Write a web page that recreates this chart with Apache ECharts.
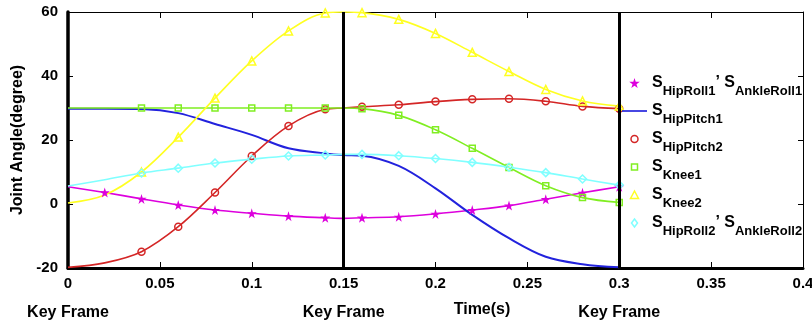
<!DOCTYPE html>
<html>
<head>
<meta charset="utf-8">
<script src="https://cdn.jsdelivr.net/npm/echarts@6/dist/echarts.min.js"></script>
<style>
  html, body { margin: 0; padding: 0; background: #fff; }
  #main { width: 812px; height: 327px; }
</style>
</head>
<body>
<div id="main"></div>
<script>
// sample times (s), markers every 0.02, key frame at 0.15
const times = [0, 0.02, 0.04, 0.06, 0.08, 0.10, 0.12, 0.14, 0.15, 0.16, 0.18, 0.20, 0.22, 0.24, 0.26, 0.28, 0.30];
const keyFrames = [0, 0.15, 0.3];

// joint angles (degree)
const hipRoll1 = [5.4, 3.6, 1.6, -0.3, -1.9, -2.9, -3.8, -4.3, -4.5, -4.3, -4.0, -3.1, -1.9, -0.5, 1.5, 3.5, 5.4];
const hipPitch1 = [29.8, 29.8, 29.7, 28.4, 25.0, 21.6, 17.4, 15.8, 15.3, 15.1, 11.9, 4.9, -3.4, -10.7, -16.5, -18.8, -19.8];
const hipPitch2 = [-19.8, -18.4, -14.9, -7.1, 3.6, 15.0, 24.4, 29.6, 30.0, 30.4, 31.0, 32.0, 32.7, 32.9, 32.1, 30.5, 29.8];
const knee1 = [30, 30, 30, 30, 30, 30, 30, 30, 30, 29.8, 27.7, 23.2, 17.4, 11.4, 5.7, 2.0, 0.5];
const knee2 = [0.3, 2.8, 10.0, 20.9, 33.1, 44.7, 54.1, 59.7, 60, 59.8, 57.7, 53.3, 47.4, 41.4, 35.8, 32.2, 30.6];
const hipRoll2 = [5.6, 7.6, 9.7, 11.2, 12.8, 14.0, 15.0, 15.3, 15.5, 15.5, 15.1, 14.2, 13.0, 11.5, 9.8, 7.8, 5.9];

const legendLabels = {
  hipRoll1: '{s|S}{b|HipRoll1}{s|’ S}{b|AnkleRoll1}',
  hipPitch1: '{s|S}{b|HipPitch1}',
  hipPitch2: '{s|S}{b|HipPitch2}',
  knee1: '{s|S}{b|Knee1}',
  knee2: '{s|S}{b|Knee2}',
  hipRoll2: '{s|S}{b|HipRoll2}{s|’ S}{b|AnkleRoll2}'
};

const starPath = 'path://M50,0 L61,35 L98,35 L68,57 L79,91 L50,70 L21,91 L32,57 L2,35 L39,35 Z';
// legend icons, padded inside a 10x10 box so they stay small
const legendIcons = {
  circle: 'path://M0,0M10,10M1.5,5A3.5,3.5 0 1 1 8.5,5A3.5,3.5 0 1 1 1.5,5Z',
  rect: 'path://M0,0M10,10M2,2H8V8H2Z',
  triangle: 'path://M0,0M10,10M5,1L9,8.5H1Z',
  diamond: 'path://M0,0M10,10M5,1L8,5L5,9L2,5Z',
  none: 'path://M0,0H30V2H0Z'
};
const FONT = 'Liberation Sans';

// name, values, colour, symbol, size, hollow, first time with a marker
const defs = [
  ['hipRoll1', hipRoll1, '#dd00dd', starPath, 10, false, 0.02],
  ['hipPitch1', hipPitch1, '#2222dd', 'none', 0, false, 1],
  ['hipPitch2', hipPitch2, '#d42626', 'circle', 7, true, 0.04],
  ['knee1', knee1, '#80ee22', 'rect', 6, true, 0.04],
  ['knee2', knee2, '#ffff22', 'triangle', 8, true, 0.04],
  ['hipRoll2', hipRoll2, '#80ffff', 'diamond', 8, true, 0.04]
];

function buildData(vals, first) {
  return times.map(function (t, i) {
    if (t < first - 1e-9 || t === 0.15) return { value: [t, vals[i]], symbol: 'none' };
    return [t, vals[i]];
  });
}

const series = defs.map(function (d) {
  return {
    name: d[0],
    type: 'line',
    data: buildData(d[1], d[6]),
    smooth: 0.35,
    symbol: d[3],
    symbolSize: d[4],
    showSymbol: d[3] !== 'none',
    lineStyle: { color: d[2], width: d[0] === 'hipPitch1' ? 2 : 1.6 },
    itemStyle: d[5]
      ? { color: 'none', borderColor: d[2], borderWidth: 1.5 }
      : { color: d[2] },
    z: 3
  };
});

// key frame vertical lines
series.push({
  name: 'keyframes',
  type: 'line',
  data: [],
  z: 6,
  markLine: {
    silent: true,
    symbol: ['none', 'none'],
    label: { show: false },
    lineStyle: { color: '#000', width: 3, type: 'solid' },
    data: keyFrames.slice(1).map(function (t) { return { xAxis: t }; })
  }
});

const legendData = defs.map(function (d) {
  const icon = legendIcons[d[3]] || d[3];
  const itemStyle = d[5]
    ? { color: 'none', borderColor: d[2], borderWidth: 1.5 }
    : { color: d[2], borderWidth: 0 };
  return { name: d[0], icon: icon, itemStyle: itemStyle };
});

const chart = echarts.init(document.getElementById('main'));
chart.setOption({
  animation: false,
  textStyle: { fontFamily: FONT },
  grid: { left: 68, right: 9, top: 12, bottom: 59, containLabel: false, outerBoundsMode: 'none' },
  legend: {
    orient: 'vertical',
    left: 617,
    top: 70,
    padding: 5,
    itemWidth: 25,
    itemHeight: 10,
    itemGap: 5,
    selectedMode: false,
    data: legendData,
    formatter: function (n) { return legendLabels[n]; },
    textStyle: {
      rich: {
        s: { fontSize: 16, fontWeight: 'bold', fontFamily: FONT, color: '#000', lineHeight: 16, verticalAlign: 'top' },
        b: { fontSize: 13, fontWeight: 'bold', fontFamily: FONT, color: '#000', lineHeight: 15, padding: [10, 0, 0, 0], verticalAlign: 'top' }
      }
    }
  },
  xAxis: [
    {
      type: 'value', min: 0, max: 0.4, interval: 0.05,
      axisLine: { show: true, onZero: false, lineStyle: { color: '#000', width: 3 } },
      axisTick: { show: true, inside: true, length: 6, lineStyle: { color: '#000', width: 1 } },
      axisLabel: { color: '#000', fontSize: 15, fontWeight: 'bold', fontFamily: FONT, margin: 8 },
      splitLine: { show: false }
    },
    {
      type: 'value', position: 'top', min: 0, max: 0.4, interval: 0.05,
      axisLine: { show: true, onZero: false, lineStyle: { color: '#000', width: 1 } },
      axisTick: { show: true, inside: true, length: 6, lineStyle: { color: '#000', width: 1 } },
      axisLabel: { show: false },
      splitLine: { show: false }
    }
  ],
  yAxis: [
    {
      type: 'value', min: -20, max: 60, interval: 20,
      name: 'Joint Angle(degree)', nameLocation: 'middle', nameGap: 39, nameRotate: 90,
      nameTextStyle: { color: '#000', fontSize: 16, fontWeight: 'bold', fontFamily: FONT },
      axisLine: { show: true, onZero: false, lineStyle: { color: '#000', width: 3.5 } },
      axisTick: { show: true, inside: true, length: 5, lineStyle: { color: '#000', width: 1 } },
      axisLabel: { color: '#000', fontSize: 15, fontWeight: 'bold', fontFamily: FONT, margin: 10 },
      splitLine: { show: false }
    },
    {
      type: 'value', position: 'right', min: -20, max: 60, interval: 20,
      axisLine: { show: true, onZero: false, lineStyle: { color: '#000', width: 1 } },
      axisTick: { show: true, inside: true, length: 5, lineStyle: { color: '#000', width: 1 } },
      axisLabel: { show: false },
      splitLine: { show: false }
    }
  ],
  series: series
});

// "Key Frame" captions under each key frame, plus the x axis title
const graphics = keyFrames.map(function (t) {
  const px = chart.convertToPixel({ xAxisIndex: 0 }, t);
  return {
    type: 'text', x: px, y: 313,
    style: { text: 'Key Frame', font: 'bold 16px "Liberation Sans"', fill: '#000',
      align: 'center', verticalAlign: 'middle', textAlign: 'center', textVerticalAlign: 'middle' }
  };
});
graphics.push({
  type: 'text', x: 482, y: 310,
  style: { text: 'Time(s)', font: 'bold 16px "Liberation Sans"', fill: '#000',
    align: 'center', verticalAlign: 'middle', textAlign: 'center', textVerticalAlign: 'middle' }
});
chart.setOption({ graphic: graphics });
</script>
</body>
</html>
